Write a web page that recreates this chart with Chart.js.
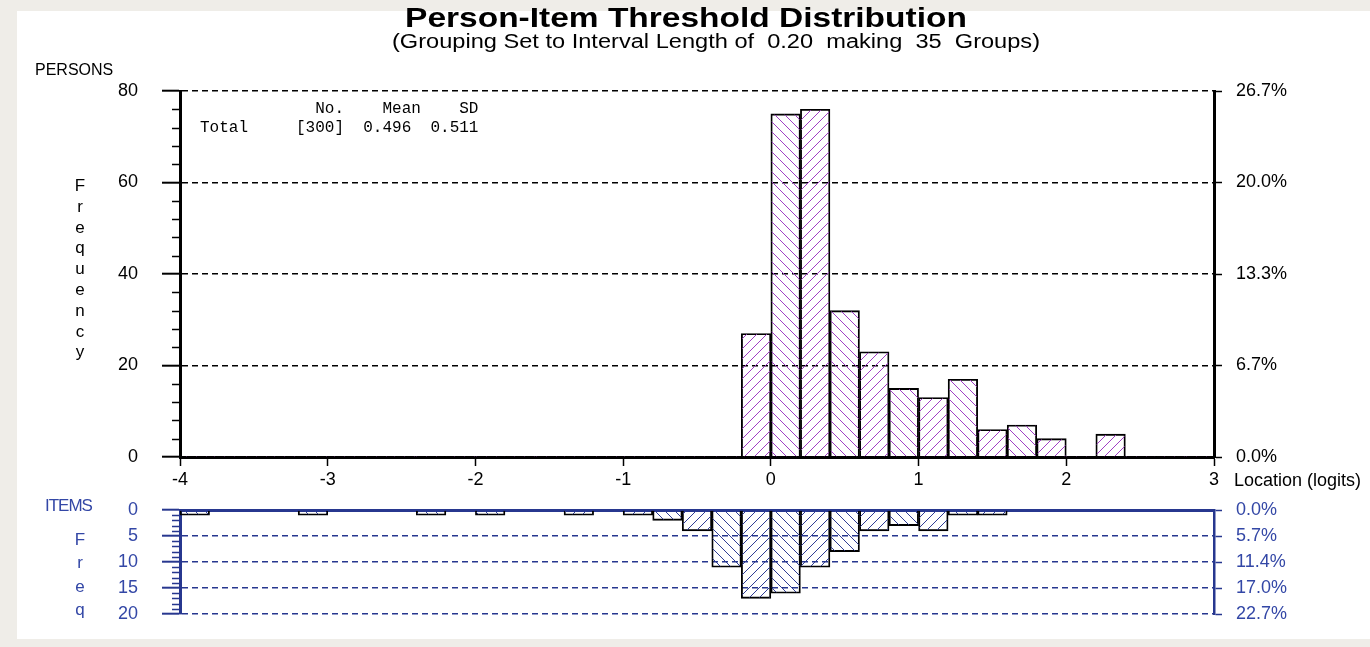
<!DOCTYPE html>
<html>
<head>
<meta charset="utf-8">
<title>Person-Item Threshold Distribution</title>
<script src="https://cdn.jsdelivr.net/npm/chart.js@4.4.1/dist/chart.umd.min.js"></script>
<style>
  html, body { margin: 0; padding: 0; }
  body { width: 1370px; height: 647px; background: #efede8; position: relative; overflow: hidden;
         font-family: "Liberation Sans", Arial, sans-serif; }
  #sheet { position: absolute; left: 17px; top: 11px; right: 0; bottom: 8px; background: #fff; }
  canvas { position: absolute; left: 0; }
  .t { position: absolute; white-space: pre; line-height: 1; }
  .vl { text-align: center; transform: translateX(-50%); }
  .blue { color: #3347a6; }
  #title { transform: translate(-50%, -50%) scaleX(1.24); }
  #subtitle { transform: translate(-50%, -50%) scaleX(1.18); }
</style>
</head>
<body>
<div id="sheet"></div>
<canvas id="personChart" width="1370" height="496" style="top:0;width:1370px;height:496px"></canvas>
<canvas id="itemChart" width="1370" height="152" style="top:496px;width:1370px;height:152px"></canvas>

<div id="title" class="t" style="left:686px;top:18px;font-weight:bold;font-size:27px"></div>
<div id="subtitle" class="t" style="left:716px;top:41px;font-size:20px"></div>
<div id="personsLabel" class="t" style="left:35px;top:62px;font-size:16px">PERSONS</div>
<div id="freqTop" class="t vl" style="left:80px;top:176px;font-size:17px;line-height:20.8px"></div>
<div id="itemsLabel" class="t blue" style="left:45px;top:497px;font-size:17px;letter-spacing:-1px">ITEMS</div>
<div id="freqItems" class="t vl blue" style="left:80px;top:528px;font-size:17px;line-height:23.3px"></div>
<div id="xLabel" class="t" style="left:1234px;top:471px;font-size:18px">Location (logits)</div>
<div id="stats" class="t" style="left:200px;top:100px;font-family:'Liberation Mono',monospace;font-size:16px;line-height:19px"></div>

<script>
// ---- histogram data: 35 groups of width 0.20 logits from -4 to 3 ----
const binCentres = [-3.9, -3.7, -3.5, -3.3, -3.1, -2.9, -2.7, -2.5, -2.3, -2.1,
                    -1.9, -1.7, -1.5, -1.3, -1.1, -0.9, -0.7, -0.5, -0.3, -0.1,
                     0.1,  0.3,  0.5,  0.7,  0.9,  1.1,  1.3,  1.5,  1.7,  1.9,
                     2.1,  2.3,  2.5,  2.7,  2.9];
const personCounts = [0, 0, 0, 0, 0, 0, 0, 0, 0, 0,
                      0, 0, 0, 0, 0, 0, 0, 0, 0, 27,
                      75, 76, 32, 23, 15, 13, 17, 6, 7, 4,
                      0, 5, 0, 0, 0];
const itemCounts = [1, 0, 0, 0, 1, 0, 0, 0, 1, 0,
                    1, 0, 0, 1, 0, 1, 2, 4, 11, 17,
                    16, 11, 8, 4, 3, 4, 1, 1, 0, 0,
                    0, 0, 0, 0, 0];

// ---- axis ticks ----
const xTicks = [-4, -3, -2, -1, 0, 1, 2, 3];
const personTicks = [0, 20, 40, 60, 80];
const itemTicks = [0, 5, 10, 15, 20];
const personMinorStep = 4;
const itemMinorStep = 1;

// ---- summary table ----
const statHeaders = ['No.', 'Mean', 'SD'];
const statLabel = 'Total';
const statMean = '0.496';
const statSD = '0.511';

const titleText = 'Person-Item Threshold Distribution';
const subtitleText = '(Grouping Set to Interval Length of  0.20  making  35  Groups)';

const personTotal = personCounts.reduce((a, b) => a + b, 0);
const itemTotal = itemCounts.reduce((a, b) => a + b, 0);
const pct = (v, total) => (v / total * 100).toFixed(1) + '%';

// ---- text around the plot ----
document.getElementById('title').textContent = titleText;
document.getElementById('subtitle').textContent = subtitleText;
document.getElementById('freqTop').textContent = 'Frequency'.split('').join('\n');
document.getElementById('freqItems').textContent = 'Freq'.split('').join('\n');
document.getElementById('stats').textContent =
  statHeaders[0].padStart(15) + statHeaders[1].padStart(8) + statHeaders[2].padStart(6) + '\n' +
  statLabel.padEnd(10) + ('[' + personTotal + ']').padEnd(7) + statMean.padEnd(7) + statSD;

// ---- hatch fills: thin diagonals, alternating direction bar to bar ----
function hatch(color, rising) {
  const s = 10;
  const c = document.createElement('canvas');
  c.width = s; c.height = s;
  const g = c.getContext('2d');
  g.fillStyle = color;
  for (let i = 0; i < s; i++) {
    g.fillRect(rising ? (s - i) % s : i, i, 1, 1);
  }
  return g.createPattern(c, 'repeat');
}
const personFill = [hatch('#a040c4', false), hatch('#a040c4', true)];
const itemFill = [hatch('#2f3d94', false), hatch('#2f3d94', true)];

// ---- short ticks between the labelled ones ----
const minorTicks = {
  id: 'minorTicks',
  afterDraw(chart, args, o) {
    const s = chart.scales[o.scaleId];
    const ctx = chart.ctx;
    ctx.save();
    ctx.strokeStyle = o.color;
    ctx.lineWidth = o.width;
    ctx.beginPath();
    for (let v = s.min; v <= s.max + 1e-9; v += o.step) {
      if (o.majors.includes(v)) continue;
      const y = Math.round(s.getPixelForValue(v)) + 0.5;
      ctx.moveTo(s.right - o.length, y);
      ctx.lineTo(s.right, y);
    }
    ctx.stroke();
    ctx.restore();
  }
};

Chart.defaults.font.family = '"Liberation Sans", Arial, sans-serif';
Chart.defaults.animation = false;

const FONT = { size: 18 };
const setTicks = list => scale => { scale.ticks = list.map(v => ({ value: v })); };
// fixed axis sizes so the plot area sits at the same place in both panels
const fixWidth = w => s => { s.width = w; s.paddingTop = 0; s.paddingBottom = 0; };

function barSet(counts, fills) {
  return {
    data: counts.map((v, i) => ({ x: binCentres[i], y: v })),
    backgroundColor: c => fills[c.dataIndex % 2],
    borderColor: '#000',
    borderWidth: c => (c.raw && c.raw.y ? 1.2 : 0),
    borderSkipped: 'start',
    barPercentage: 1,
    categoryPercentage: 1
  };
}

// ---- persons histogram ----
new Chart(document.getElementById('personChart'), {
  type: 'bar',
  data: { datasets: [barSet(personCounts, personFill)] },
  plugins: [minorTicks],
  options: {
    responsive: false,
    layout: { padding: { top: 91, left: 0, right: 0, bottom: 0 } },
    plugins: {
      legend: { display: false },
      tooltip: { enabled: false },
      minorTicks: { scaleId: 'y', step: personMinorStep, majors: personTicks, length: 8, color: '#000', width: 1.5 }
    },
    scales: {
      x: {
        type: 'linear', min: -4, max: 3, offset: false,
        afterBuildTicks: setTicks(xTicks),
        afterFit: s => { s.height = 39; s.paddingLeft = 0; s.paddingRight = 0; },
        ticks: { color: '#000', font: FONT, padding: 3, maxRotation: 0, autoSkip: false, callback: v => String(v) },
        grid: { offset: false, drawOnChartArea: false, tickLength: 9, tickColor: '#000', tickWidth: 1.5 },
        border: { color: '#000', width: 3 }
      },
      y: {
        min: 0, max: 80,
        afterBuildTicks: setTicks(personTicks),
        afterFit: fixWidth(180),
        ticks: { color: '#000', font: FONT, padding: 24, autoSkip: false },
        grid: {
          color: c => (c.tick && c.tick.value === 0 ? 'rgba(0,0,0,0)' : '#000'),
          lineWidth: 1.4, tickLength: 18, tickColor: '#000', tickWidth: 2
        },
        border: { color: '#000', width: 3, dash: [6, 4] }
      },
      yR: {
        position: 'right', min: 0, max: 80,
        afterBuildTicks: setTicks(personTicks),
        afterFit: fixWidth(156),
        ticks: { color: '#000', font: FONT, padding: 14, autoSkip: false, callback: v => pct(v, personTotal) },
        grid: { drawOnChartArea: false, tickLength: 8, tickColor: '#000', tickWidth: 1.5 },
        border: { color: '#000', width: 3 }
      }
    }
  }
});

// ---- item thresholds, hanging below ----
const BLUE = '#27378f';
const BLUE_TEXT = '#3347a6';
new Chart(document.getElementById('itemChart'), {
  type: 'bar',
  data: { datasets: [barSet(itemCounts, itemFill)] },
  plugins: [minorTicks],
  options: {
    responsive: false,
    layout: { padding: { top: 14, left: 0, right: 0, bottom: 34 } },
    plugins: {
      legend: { display: false },
      tooltip: { enabled: false },
      minorTicks: { scaleId: 'y', step: itemMinorStep, majors: itemTicks, length: 8, color: BLUE, width: 1.5 }
    },
    scales: {
      x: {
        type: 'linear', min: -4, max: 3, position: 'top', offset: false,
        afterBuildTicks: setTicks(xTicks),
        afterFit: s => { s.height = 0; s.paddingLeft = 0; s.paddingRight = 0; },
        ticks: { display: false },
        grid: { display: false, offset: false },
        border: { color: BLUE, width: 3 }
      },
      y: {
        min: 0, max: 20, reverse: true,
        afterBuildTicks: setTicks(itemTicks),
        afterFit: fixWidth(180),
        ticks: { color: BLUE_TEXT, font: FONT, padding: 24, autoSkip: false },
        grid: {
          color: c => (c.tick && c.tick.value === 0 ? 'rgba(0,0,0,0)' : BLUE),
          lineWidth: 1.4, tickLength: 18, tickColor: BLUE, tickWidth: 2
        },
        border: { color: BLUE, width: 3, dash: [6, 4] }
      },
      yR: {
        position: 'right', min: 0, max: 20, reverse: true,
        afterBuildTicks: setTicks(itemTicks),
        afterFit: fixWidth(156),
        ticks: { color: BLUE_TEXT, font: FONT, padding: 14, autoSkip: false, callback: v => pct(v, itemTotal) },
        grid: { drawOnChartArea: false, tickLength: 8, tickColor: BLUE, tickWidth: 1.5 },
        border: { color: BLUE, width: 2.5 }
      }
    }
  }
});
</script>
</body>
</html>
